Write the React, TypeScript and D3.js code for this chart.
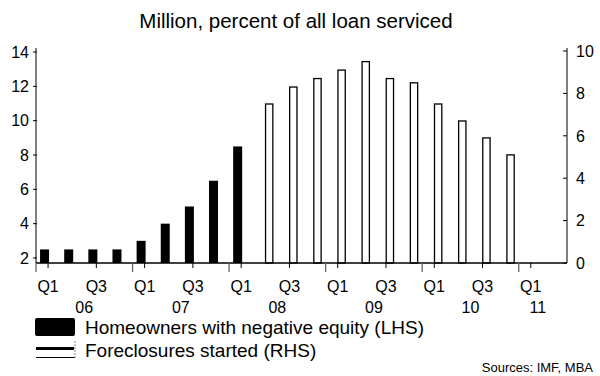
import React from "react";
import * as d3 from "d3";

// ---- data ----
const quarters: string[] = [];
const yearsAll = [2006, 2007, 2008, 2009, 2010, 2011];
yearsAll.forEach((y) => ["Q1", "Q2", "Q3", "Q4"].forEach((q) => quarters.push(`${y}-${q}`)));
const allQuarters = quarters.slice(0, 22); // 2006Q1 .. 2011Q2

const negEquityQuarters = [
  "2006-Q1", "2006-Q2", "2006-Q3", "2006-Q4",
  "2007-Q1", "2007-Q2", "2007-Q3", "2007-Q4", "2008-Q1",
];
const negEquityValues = [2.5, 2.5, 2.5, 2.5, 3.0, 4.0, 5.0, 6.5, 8.5];

const foreclosureQuarters = [
  "2008-Q2", "2008-Q3", "2008-Q4", "2009-Q1", "2009-Q2", "2009-Q3",
  "2009-Q4", "2010-Q1", "2010-Q2", "2010-Q3", "2010-Q4",
];
const foreclosureValues = [7.5, 8.3, 8.7, 9.1, 9.5, 8.7, 8.5, 7.5, 6.7, 5.9, 5.1];

const leftTicks = [2, 4, 6, 8, 10, 12, 14];
const rightTicks = [0, 2, 4, 6, 8, 10];
const yearLabels = ["06", "07", "08", "09", "10", "11"];

const title = "Million, percent of all loan serviced";
const legendLabels = ["Homeowners with negative equity (LHS)", "Foreclosures started (RHS)"];
const sourceText = "Sources: IMF, MBA";

export default function App() {
  const W = 600, H = 376;
  const left = 36, right = 567, top = 48, bottom = 263;
  const font = "'Liberation Sans', Arial, sans-serif";

  const x = d3.scaleBand<string>().domain(allQuarters).range([left, right]).padding(0);
  const bw = x.bandwidth();
  const cx = (q: string) => (x(q) as number) + bw / 2;
  const yL = d3.scaleLinear().domain([2, 14]).range([258, 52]);
  const yR = d3.scaleLinear().domain([0, 10]).range([bottom, 51]);

  const qTicks = allQuarters.filter((q) => q.endsWith("Q1") || q.endsWith("Q3"));
  const yearStarts = allQuarters.filter((q) => q.endsWith("Q1"));

  return (
    <svg width={W} height={H} style={{ position: "absolute", left: 0, top: 0, background: "#fff" }} fontFamily={font}>
      <rect x={0} y={0} width={W} height={H} fill="#fff" />
      <text x={296} y={28} fontSize={20.5} textAnchor="middle" fill="#000">{title}</text>

      {/* black bars */}
      {negEquityQuarters.map((q, i) => (
        <rect key={q} x={cx(q) - 8} y={yL(negEquityValues[i])} width={9} height={bottom - yL(negEquityValues[i])} fill="#000" />
      ))}
      {/* hollow bars */}
      {foreclosureQuarters.map((q, i) => (
        <rect key={q} x={cx(q) + 0.25} y={yR(foreclosureValues[i])} width={7.3} height={bottom - yR(foreclosureValues[i])}
          fill="#fff" stroke="#000" strokeWidth={1.3} />
      ))}

      {/* axes lines */}
      <line x1={left} x2={left} y1={top} y2={bottom} stroke="#000" strokeWidth={1} />
      <line x1={right} x2={right} y1={top} y2={bottom} stroke="#000" strokeWidth={1} />
      <line x1={left} x2={right} y1={bottom} y2={bottom} stroke="#000" strokeWidth={1.3} />

      {/* left ticks */}
      {leftTicks.map((t) => (
        <g key={"l" + t}>
          <line x1={left - 3} x2={left + 1} y1={yL(t)} y2={yL(t)} stroke="#000" />
          <text x={29} y={yL(t)} dy="0.36em" fontSize={16} textAnchor="end">{t}</text>
        </g>
      ))}
      {/* right ticks */}
      {rightTicks.map((t) => (
        <g key={"r" + t}>
          <line x1={right - 4} x2={right} y1={yR(t)} y2={yR(t)} stroke="#000" />
          <text x={576} y={yR(t)} dy="0.36em" fontSize={16} textAnchor="start">{t}</text>
        </g>
      ))}

      {/* quarter ticks */}
      {qTicks.map((q) => (
        <g key={"q" + q}>
          <line x1={cx(q)} x2={cx(q)} y1={bottom} y2={bottom + 5} stroke="#000" />
          <text x={cx(q)} y={292} fontSize={16} textAnchor="middle">{q.slice(5)}</text>
        </g>
      ))}
      {/* year separators */}
      {yearStarts.map((q) => (
        <line key={"y" + q} x1={x(q) as number} x2={x(q) as number} y1={bottom} y2={bottom + 9} stroke="#666" strokeWidth={1.3} />
      ))}
      {/* year labels */}
      {yearLabels.map((yl, i) => {
        const qs = allQuarters.filter((q) => q.startsWith(String(yearsAll[i])));
        const x0 = x(qs[0]) as number;
        const x1 = (x(qs[qs.length - 1]) as number) + bw;
        return (
          <text key={yl} x={(x0 + x1) / 2 - (qs.length < 4 ? 5 : 0)} y={313} fontSize={16} textAnchor="middle">{yl}</text>
        );
      })}

      {/* legend */}
      <rect x={35} y={318} width={40} height={18} rx={2} fill="#000" />
      <text x={85} y={334} fontSize={19}>{legendLabels[0]}</text>
      <line x1={36} x2={74} y1={348.5} y2={348.5} stroke="#000" strokeWidth={3} />
      <line x1={36} x2={75} y1={357.5} y2={357.5} stroke="#000" strokeWidth={1} />
      <line x1={75} x2={75} y1={341} y2={358} stroke="#888" strokeWidth={1} strokeDasharray="2,1" />
      <text x={85} y={357} fontSize={19}>{legendLabels[1]}</text>

      <text x={593} y={372} fontSize={13} textAnchor="end">{sourceText}</text>
    </svg>
  );
}
